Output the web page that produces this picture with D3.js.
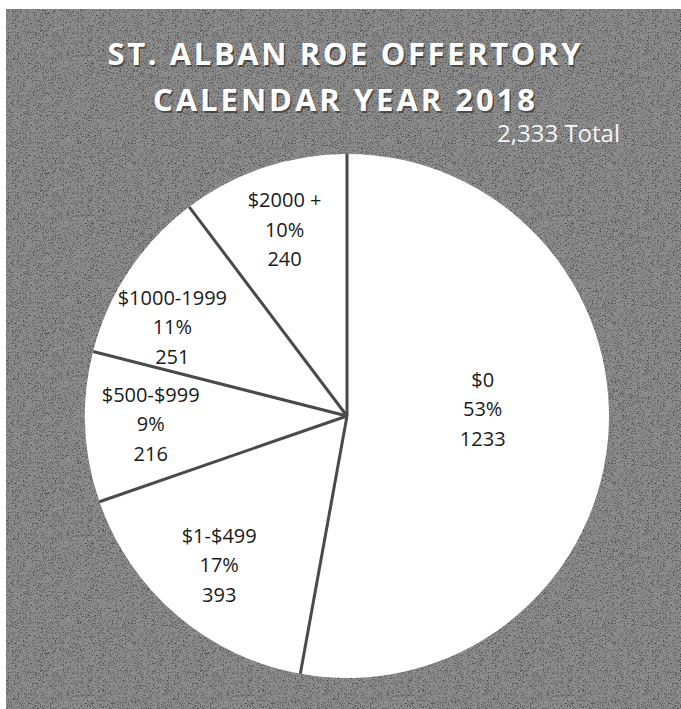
<!DOCTYPE html>
<html>
<head>
<meta charset="utf-8">
<script src="https://cdn.jsdelivr.net/npm/d3@7"></script>
<style>
  html, body { margin: 0; padding: 0; background: #fff; }
  svg { display: block; }
</style>
</head>
<body>
<div id="container"></div>
<script>
//DATA
const categories = ["$0", "$1-$499", "$500-$999", "$1000-1999", "$2000 +"];
const counts = [1233, 393, 216, 251, 240];
const titleLines = ["ST. ALBAN ROE OFFERTORY", "CALENDAR YEAR 2018"];
const totalLabel = "2,333 Total";

//CONSTANTS AND GLOBALS
const width = 681,
    height = 709,
    cx = 347, cy = 416,
    radius = 262;

// excel "best fit" moved a couple of labels off the plain centroid
const labelRadius = {"$0": 0.52};
const labelNudge = {"$0": [0, -19], "$1000-1999": [-11, 20]};

const data = categories.map((c, i) => ({category: c, count: counts[i]}));
const total = d3.sum(counts);
const pct = d3.format(".0%");

const svg = d3.select("#container")
  .append("svg")
  .attr("width", width)
  .attr("height", height);

// grainy scan background
const defs = svg.append("defs");
const grain = defs.append("filter").attr("id", "grain")
  .attr("x", 0).attr("y", 0).attr("width", "100%").attr("height", "100%");
grain.append("feTurbulence")
  .attr("type", "fractalNoise")
  .attr("baseFrequency", 1.6)
  .attr("numOctaves", 1)
  .attr("seed", 7);
grain.append("feColorMatrix")
  .attr("type", "matrix")
  .attr("values", "0 0 0 0 0  0 0 0 0 0  0 0 0 0 0  -3.5 0 0 0 1.8");

svg.append("rect")
  .attr("x", 6).attr("y", 9)
  .attr("width", width - 6).attr("height", height - 9)
  .attr("fill", "#8e8e8e");
svg.append("rect")
  .attr("x", 6).attr("y", 9)
  .attr("width", width - 6).attr("height", height - 9)
  .attr("fill", "#000")
  .attr("filter", "url(#grain)")
  .attr("opacity", 0.5);

// TITLE
const title = svg.append("g")
  .attr("font-family", "'Open Sans', sans-serif")
  .attr("font-weight", "bold")
  .attr("font-size", 31)
  .attr("text-anchor", "middle");

const titleSpec = [{y: 65, len: 473}, {y: 111, len: 382}];
titleLines.forEach((t, i) => {
  title.append("text")
    .attr("x", 344 + 1.5).attr("y", titleSpec[i].y + 1.5)
    .attr("textLength", titleSpec[i].len).attr("lengthAdjust", "spacing")
    .attr("fill", "#333").attr("opacity", 0.7)
    .text(t);
  title.append("text")
    .attr("x", 344).attr("y", titleSpec[i].y)
    .attr("textLength", titleSpec[i].len).attr("lengthAdjust", "spacing")
    .attr("fill", "#fff")
    .text(t);
});

svg.append("text")
  .attr("x", 620).attr("y", 142)
  .attr("text-anchor", "end")
  .attr("font-family", "'Open Sans', sans-serif")
  .attr("font-size", 24)
  .attr("fill", "#f4f4f4")
  .text(totalLabel);

// PIE
const pie = d3.pie()
  .sort(null)
  .value(d => d.count);

const arcs = pie(data);

const arcGen = d3.arc()
  .innerRadius(0)
  .outerRadius(radius);

const g = svg.append("g")
  .attr("transform", `translate(${cx}, ${cy})`);

g.selectAll("path.slice")
  .data(arcs)
  .join("path")
  .attr("class", "slice")
  .attr("fill", "#fff")
  .attr("d", arcGen);

// separators between slices
g.selectAll("line.sep")
  .data(arcs)
  .join("line")
  .attr("class", "sep")
  .attr("x1", 0).attr("y1", 0)
  .attr("x2", d => d3.pointRadial(d.startAngle, radius)[0])
  .attr("y2", d => d3.pointRadial(d.startAngle, radius)[1])
  .attr("stroke", "#4a4a4a")
  .attr("stroke-width", 3)
  .attr("stroke-linecap", "butt");

// LABELS
const lineGap = 29.5;
const labels = g.selectAll("g.label")
  .data(arcs)
  .join("g")
  .attr("class", "label")
  .attr("transform", d => {
    const mid = (d.startAngle + d.endAngle) / 2;
    const k = labelRadius[d.data.category] || 0.75;
    const p = d3.pointRadial(mid, radius * k);
    const n = labelNudge[d.data.category] || [0, 0];
    return `translate(${p[0] + n[0]}, ${p[1] + n[1]})`;
  })
  .attr("font-family", "'Open Sans', sans-serif")
  .attr("font-size", 20)
  .attr("fill", "#1a1a1a")
  .attr("text-anchor", "middle");

labels.each(function(d) {
  const rows = [d.data.category, pct(d.data.count / total), d.data.count];
  d3.select(this).selectAll("text")
    .data(rows)
    .join("text")
    .attr("x", 0)
    .attr("y", (r, i) => (i - 1) * lineGap + 7)
    .text(r => r);
});
</script>
</body>
</html>
